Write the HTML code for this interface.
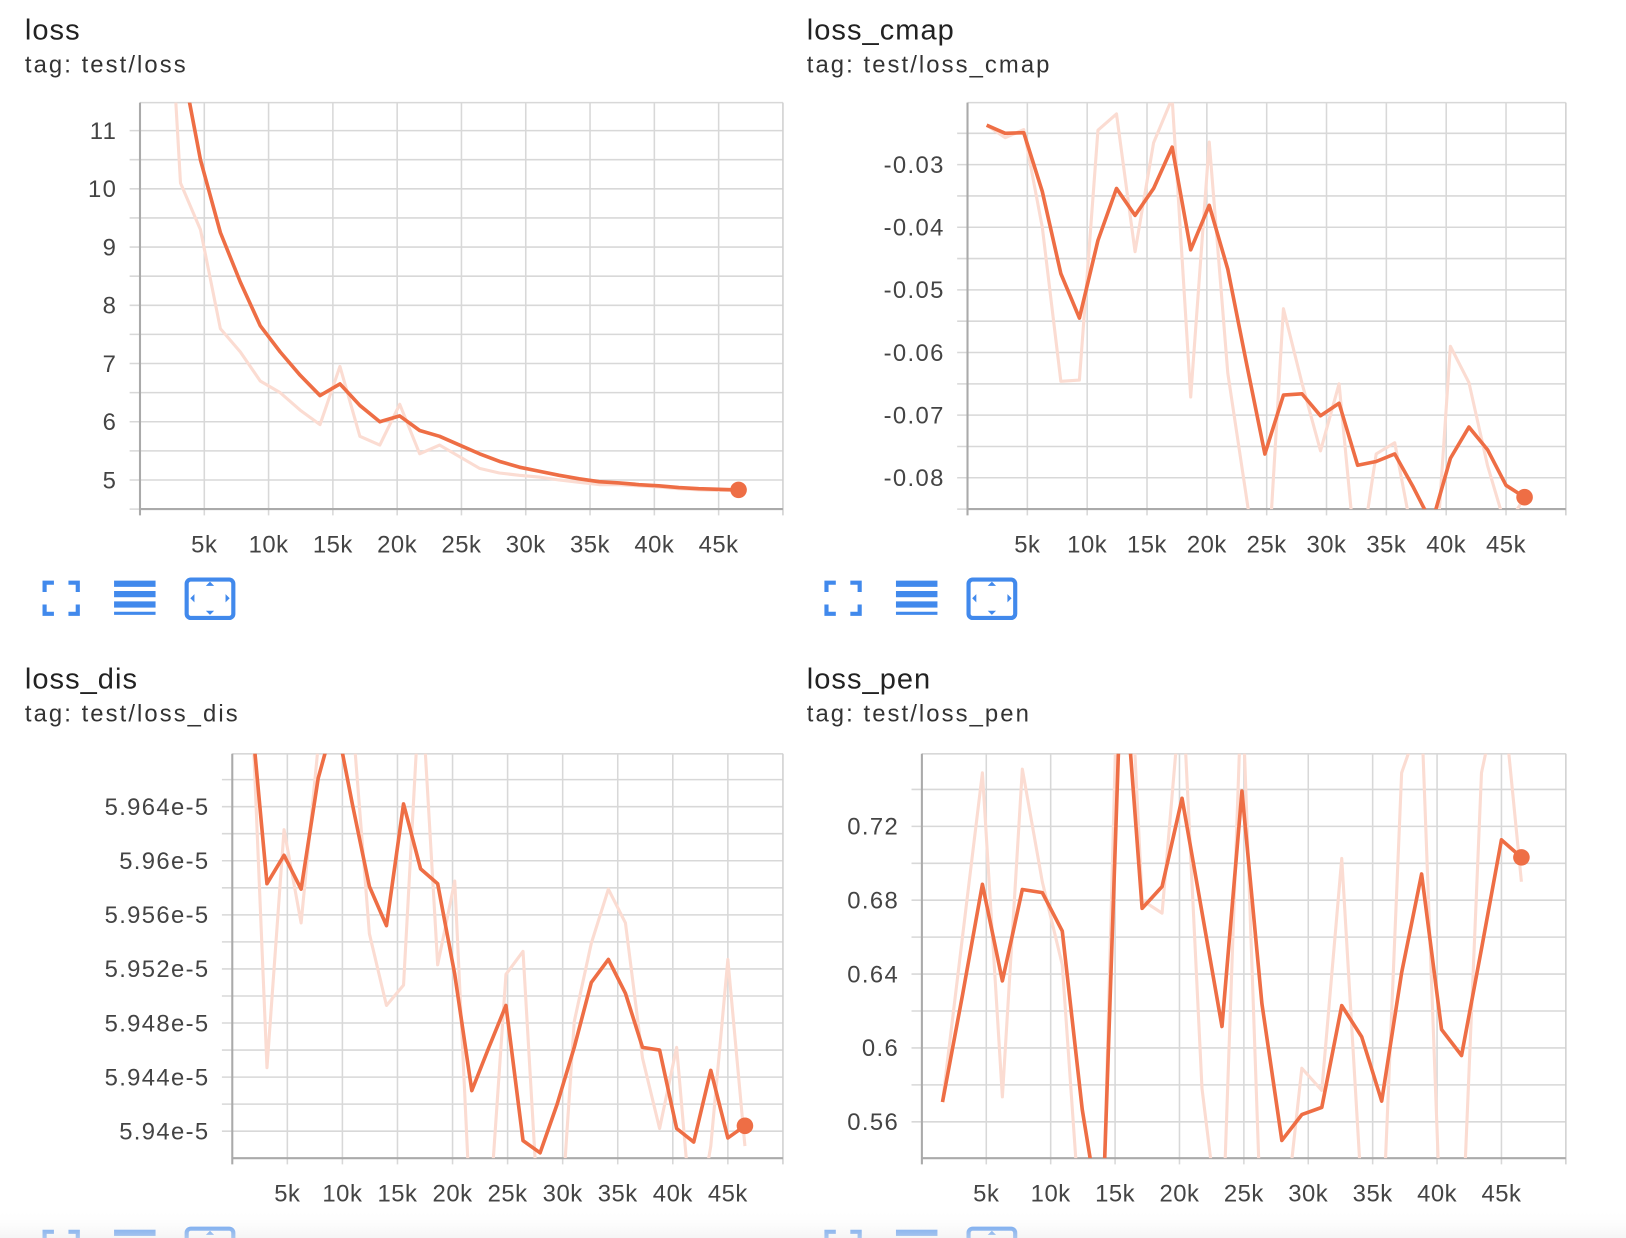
<!DOCTYPE html>
<html><head><meta charset="utf-8"><style>
html,body{margin:0;padding:0;background:#fff;overflow:hidden}
svg{display:block}
text{font-family:"Liberation Sans",sans-serif}
</style></head><body>
<svg id="s" width="1626" height="1238" viewBox="0 0 1568 1194" preserveAspectRatio="none" xmlns="http://www.w3.org/2000/svg">
<defs>
<linearGradient id="fade" x1="0" y1="0" x2="0" y2="1"><stop offset="0" stop-color="#fff" stop-opacity="0"/><stop offset="1" stop-color="#eeeeee" stop-opacity="0.6"/></linearGradient>
</defs>
</svg>
<script>
const steps=[1.6,3.15,4.7,6.25,7.8,9.35,10.9,12.45,14.0,15.55,17.1,18.65,20.2,21.75,23.3,24.85,26.4,27.95,29.5,31.05,32.6,34.15,35.7,37.25,38.8,40.35,41.9,43.45,45.0,46.55];
const xTickVals=[5,10,15,20,25,30,35,40,45];
const xTickLabels=["5k","10k","15k","20k","25k","30k","35k","40k","45k"];

const lossSmooth=[14,12.3,10.5,9.25,8.4,7.65,7.2,6.8,6.45,6.65,6.28,6.0,6.1,5.85,5.75,5.6,5.45,5.32,5.22,5.15,5.08,5.02,4.97,4.95,4.92,4.9,4.87,4.85,4.84,4.83];
const lossRaw=[16,10.1,9.3,7.6,7.2,6.7,6.5,6.2,5.95,6.95,5.75,5.6,6.3,5.45,5.6,5.4,5.2,5.12,5.08,5.05,5.0,4.96,4.92,4.92,4.9,4.88,4.85,4.83,4.82,4.82];
const lossTicks=[5,6,7,8,9,10,11];
const lossTickLabels=["5","6","7","8","9","10","11"];

const cmapSmooth=[-0.0237,-0.025,-0.0249,-0.0343,-0.0474,-0.0545,-0.0421,-0.0338,-0.0381,-0.0338,-0.0272,-0.0436,-0.0365,-0.0467,-0.0616,-0.0762,-0.0668,-0.0666,-0.0701,-0.0681,-0.078,-0.0774,-0.0762,-0.0815,-0.0873,-0.0769,-0.0719,-0.0755,-0.0812,-0.0831];
const cmapRaw=[-0.0237,-0.0257,-0.0244,-0.04,-0.0646,-0.0644,-0.0245,-0.0219,-0.0439,-0.0265,-0.0194,-0.0671,-0.0264,-0.0633,-0.083,-0.103,-0.053,-0.0649,-0.0757,-0.065,-0.096,-0.0762,-0.0744,-0.09,-0.103,-0.059,-0.0648,-0.078,-0.088,-0.0831];
const cmapTicks=[-0.08,-0.07,-0.06,-0.05,-0.04,-0.03];
const cmapTickLabels=["-0.08","-0.07","-0.06","-0.05","-0.04","-0.03"];

const disSmooth=[5.972,5.9583,5.9604,5.9579,5.9661,5.9707,5.9642,5.9581,5.9552,5.9642,5.9594,5.9583,5.9516,5.943,5.9462,5.9493,5.9393,5.9384,5.942,5.9462,5.951,5.9527,5.9502,5.9462,5.946,5.9402,5.9392,5.9445,5.9395,5.9404];
const disRaw=[5.975,5.9447,5.9623,5.9554,5.9685,5.974,5.9707,5.9546,5.9493,5.9508,5.974,5.9523,5.9585,5.9316,5.9332,5.9516,5.9533,5.9316,5.929,5.9481,5.9539,5.9579,5.9554,5.9454,5.9402,5.9462,5.9316,5.9389,5.9527,5.9389];
const disTicks=[5.940,5.944,5.948,5.952,5.956,5.960,5.964];
const disTickLabels=["5.94e-5","5.944e-5","5.948e-5","5.952e-5","5.956e-5","5.96e-5","5.964e-5"];

const penSmooth=[0.5707,0.6285,0.6886,0.6363,0.6858,0.6841,0.6633,0.5667,0.50,0.82,0.6756,0.6874,0.7352,0.6734,0.6116,0.7391,0.624,0.5499,0.5639,0.5678,0.6229,0.606,0.5712,0.6408,0.6942,0.61,0.5959,0.6537,0.7127,0.7032];
const penRaw=[0.5707,0.66,0.749,0.5735,0.751,0.69,0.645,0.49,0.49,0.9,0.68,0.673,0.80,0.578,0.49,0.80,0.49,0.49,0.589,0.577,0.7026,0.52,0.49,0.749,0.78,0.49,0.49,0.749,0.80,0.69];
const penTicks=[0.56,0.6,0.64,0.68,0.72];
const penTickLabels=["0.56","0.6","0.64","0.68","0.72"];

const NS="http://www.w3.org/2000/svg";
const svg=document.getElementById('s');
function mk(tag,attrs,parent){const e=document.createElementNS(NS,tag);for(const k in attrs)e.setAttribute(k,attrs[k]);(parent||svg).appendChild(e);return e;}

const charts=[
 {id:'loss',title:'loss',tag:'tag: test/loss',L:135,R:755,T:99,B:491,y0:4.5,y1:11.48,minor:0.5,ticks:lossTicks,labels:lossTickLabels,sm:lossSmooth,raw:lossRaw,tx:24,ty:0},
 {id:'loss-cmap',title:'loss_cmap',tag:'tag: test/loss_cmap',L:933,R:1510,T:99,B:491,y0:-0.085,y1:-0.0201,minor:0.005,ticks:cmapTicks,labels:cmapTickLabels,sm:cmapSmooth,raw:cmapRaw,tx:778,ty:0},
 {id:'loss-dis',title:'loss_dis',tag:'tag: test/loss_dis',L:224,R:755,T:727,B:1117,y0:5.938006,y1:5.96791,minor:0.002,ticks:disTicks,labels:disTickLabels,sm:disSmooth,raw:disRaw,tx:24,ty:626},
 {id:'loss-pen',title:'loss_pen',tag:'tag: test/loss_pen',L:889,R:1510,T:727,B:1117,y0:0.5403,y1:0.7593,minor:0.02,ticks:penTicks,labels:penTickLabels,sm:penSmooth,raw:penRaw,tx:778,ty:626}
];

charts.forEach((c,ci)=>{
 const g=mk('g',{});
 
 
 const xs=v=>c.L+(v/50)*(c.R-c.L);
 const ys=v=>c.B-(v-c.y0)/(c.y1-c.y0)*(c.B-c.T);
 const t1=mk('text',{x:c.tx,y:c.ty+38,'font-size':28,fill:'#222','letter-spacing':1},g);t1.textContent=c.title;
 
 
 const t2=mk('text',{x:c.tx,y:c.ty+70,'font-size':23,fill:'#333','letter-spacing':2},g);t2.textContent=c.tag;
 
 
 const start=Math.ceil(c.y0/c.minor-1e-6);
 for(let k=start;k*c.minor<=c.y1+1e-9;k++){
  const v=k*c.minor,y=ys(v);
  mk('line',{x1:c.L-10,x2:c.R,y1:y,y2:y,stroke:'#d8d8d8','stroke-width':1.5},g);
 }
 mk('line',{x1:c.L,x2:c.R,y1:c.T,y2:c.T,stroke:'#d8d8d8','stroke-width':1.5},g);
 xTickVals.forEach(v=>mk('line',{x1:xs(v),x2:xs(v),y1:c.T,y2:c.B+6,stroke:'#d8d8d8','stroke-width':1.5},g));
 mk('line',{x1:c.R,x2:c.R,y1:c.T,y2:c.B+6,stroke:'#d0d0d0','stroke-width':1.5},g);
 mk('line',{x1:c.L,x2:c.L,y1:c.T,y2:c.B+6,stroke:'#aaa','stroke-width':2},g);
 mk('line',{x1:c.L,x2:c.R,y1:c.B,y2:c.B,stroke:'#aaa','stroke-width':2},g);
 c.ticks.forEach((v,i)=>{
  const t=mk('text',{x:c.L-22,y:ys(v)+8,'font-size':23,fill:'#444','text-anchor':'end','letter-spacing':1.3},g);
  t.textContent=c.labels[i];
  
  
 });
 xTickVals.forEach((v,i)=>{
  const t=mk('text',{x:xs(v),y:c.B+42,'font-size':23,fill:'#444','text-anchor':'middle','letter-spacing':0.5},g);
  t.textContent=xTickLabels[i];
  
  
 });
 const cp=mk('clipPath',{id:'cp'+ci},g);
 mk('rect',{x:c.L,y:c.T,width:c.R-c.L,height:c.B-c.T},cp);
 const pg=mk('g',{'clip-path':'url(#cp'+ci+')'},g);
 const raw=mk('polyline',{points:steps.map((s,i)=>xs(s)+','+ys(c.raw[i])).join(' '),fill:'none',stroke:'#fbdcd2','stroke-width':3,'stroke-linejoin':'round'},pg);
 
 
 const sm=mk('polyline',{points:steps.map((s,i)=>xs(s)+','+ys(c.sm[i])).join(' '),fill:'none',stroke:'#ee6e45','stroke-width':3.5,'stroke-linejoin':'round'},pg);
 
 
 const n=steps.length-1;
 const dot=mk('circle',{cx:xs(steps[n]),cy:ys(c.sm[n]),r:8,fill:'#ee6e45'},g);
 
 
 const iy=c.ty+577, ix=c.tx+19;
 const ic=mk('g',{stroke:'#4189ec','stroke-width':4,fill:'none'},g);
 
 
 const bx=ix,by=iy-15,bw=32,bh=30,a=9;
 mk('path',{d:`M${bx} ${by+a}V${by}H${bx+a} M${bx+bw-a} ${by}H${bx+bw}V${by+a} M${bx+bw} ${by+bh-a}V${by+bh}H${bx+bw-a} M${bx+a} ${by+bh}H${bx}V${by+bh-a}`},ic);
 const li=mk('g',{fill:'#4189ec'},g);
 
 
 [0,10,20].forEach(d=>mk('rect',{x:ix+67,y:iy-17+d,width:40,height:6},li));
 mk('rect',{x:ix+67,y:iy+13,width:40,height:3},li);
 const fi=mk('g',{},g);
 
 
 mk('rect',{x:ix+137,y:iy-18,width:45,height:37,rx:4,fill:'none',stroke:'#4189ec','stroke-width':4},fi);
 const cx=ix+159.5,cy=iy;
 mk('path',{d:`M${cx-4} ${cy-12}h8l-4 -4z M${cx-4} ${cy+12}h8l-4 4z M${cx-15} ${cy-4}v8l-4 -4z M${cx+15} ${cy-4}v8l4 -4z`,fill:'#4189ec'},fi);
});
const fade=mk('rect',{x:0,y:1166,width:1568,height:28,fill:'url(#fade)'});


</script>
</body></html>
